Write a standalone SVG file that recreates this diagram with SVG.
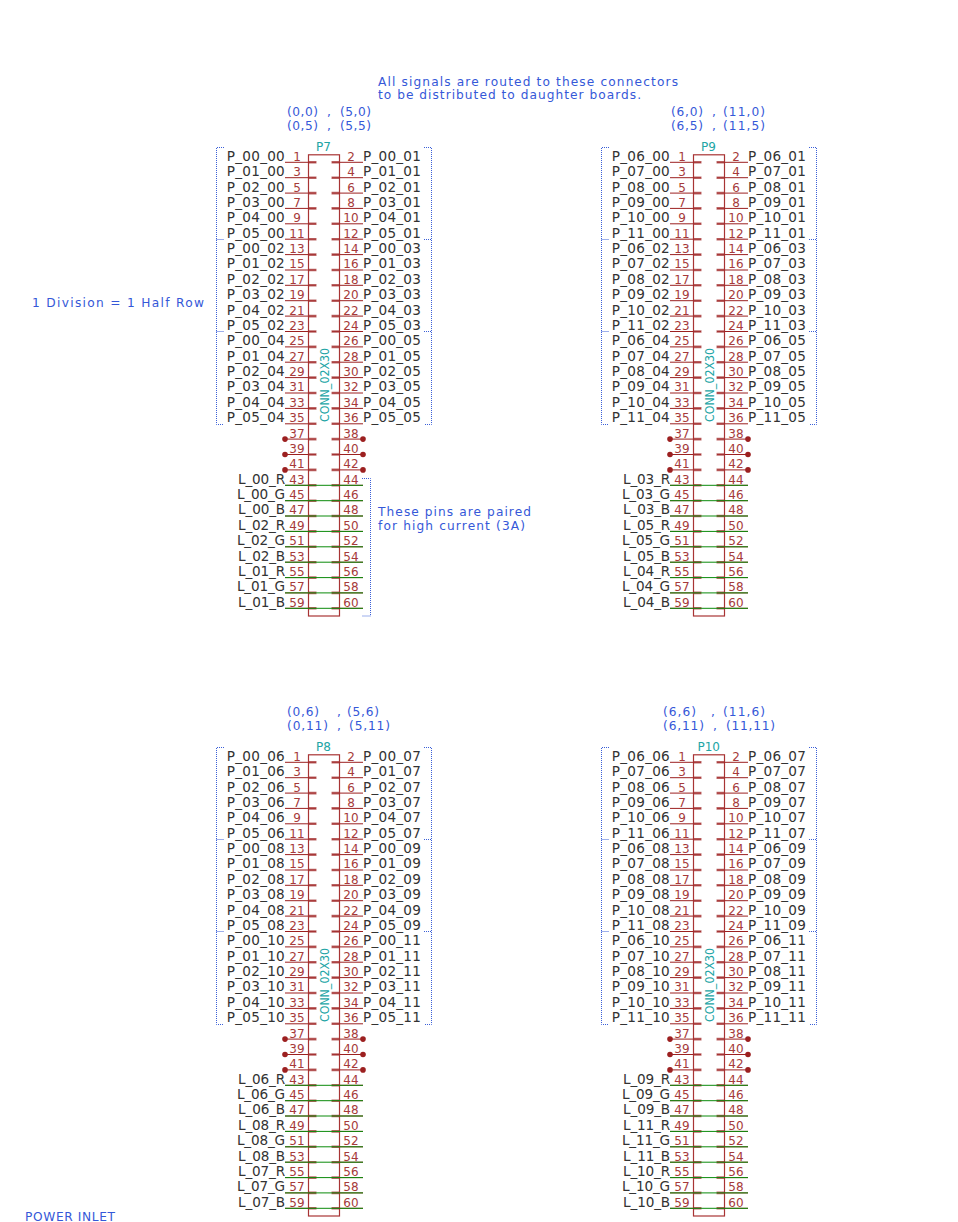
<svg xmlns="http://www.w3.org/2000/svg" xmlns:xlink="http://www.w3.org/1999/xlink" width="958" height="1222" viewBox="0 0 958 1222">
<style>
text{font-family:"DejaVu Sans","Liberation Sans",sans-serif}
.n{font-size:12px;fill:#a63a3a;text-anchor:middle}
.l{font-size:13.6px;fill:#333;text-anchor:end;letter-spacing:.25px}
.k{font-size:13.6px;fill:#333;text-anchor:end;letter-spacing:-.15px}
.r{font-size:13.6px;fill:#333;letter-spacing:.25px}
.v{font-size:12px;fill:#22a5a5}
.c{font-size:13px;fill:#22a5a5}
.b{font-size:12.2px;fill:#3558d8}
.box{fill:none;stroke:#a83434;stroke-width:1.2}
.pin{fill:none;stroke:#9c2020;stroke-width:1}
.stub{fill:none;stroke:#a83a3a;stroke-width:2.6;stroke-opacity:.75}
.wire{fill:none;stroke:#0a8a0a;stroke-width:1}
.dot{fill:#9c2020}
.br{fill:none;stroke:#3a5fd8;stroke-width:1;stroke-dasharray:1 1}
</style>
<defs>
<g id="body">
<rect class="box" x="308.5" y="154.8" width="31" height="461.2"/>
<path class="pin" d="M285 162.3H316M285 177.7H316M285 193.1H316M285 208.4H316M285 223.8H316M285 239.2H316M285 254.6H316M285 270H316M285 285.3H316M285 300.7H316M285 316.1H316M285 331.5H316M285 346.9H316M285 362.2H316M285 377.6H316M285 393H316M285 408.4H316M285 423.8H316M285 439.1H316M285 454.5H316M285 469.9H316M285 485.3H316M285 500.7H316M285 516H316M285 531.4H316M285 546.8H316M285 562.2H316M285 577.6H316M285 592.9H316M285 608.3H316M332 162.3H363M332 177.7H363M332 193.1H363M332 208.4H363M332 223.8H363M332 239.2H363M332 254.6H363M332 270H363M332 285.3H363M332 300.7H363M332 316.1H363M332 331.5H363M332 346.9H363M332 362.2H363M332 377.6H363M332 393H363M332 408.4H363M332 423.8H363M332 439.1H363M332 454.5H363M332 469.9H363M332 485.3H363M332 500.7H363M332 516H363M332 531.4H363M332 546.8H363M332 562.2H363M332 577.6H363M332 592.9H363M332 608.3H363"/>
<path class="stub" d="M308.5 162.3H316.5M308.5 177.7H316.5M308.5 193.1H316.5M308.5 208.4H316.5M308.5 223.8H316.5M308.5 239.2H316.5M308.5 254.6H316.5M308.5 270H316.5M308.5 285.3H316.5M308.5 300.7H316.5M308.5 316.1H316.5M308.5 331.5H316.5M308.5 346.9H316.5M308.5 362.2H316.5M308.5 377.6H316.5M308.5 393H316.5M308.5 408.4H316.5M308.5 423.8H316.5M308.5 439.1H316.5M308.5 454.5H316.5M308.5 469.9H316.5M308.5 485.3H316.5M308.5 500.7H316.5M308.5 516H316.5M308.5 531.4H316.5M308.5 546.8H316.5M308.5 562.2H316.5M308.5 577.6H316.5M308.5 592.9H316.5M308.5 608.3H316.5M331.5 162.3H339.5M331.5 177.7H339.5M331.5 193.1H339.5M331.5 208.4H339.5M331.5 223.8H339.5M331.5 239.2H339.5M331.5 254.6H339.5M331.5 270H339.5M331.5 285.3H339.5M331.5 300.7H339.5M331.5 316.1H339.5M331.5 331.5H339.5M331.5 346.9H339.5M331.5 362.2H339.5M331.5 377.6H339.5M331.5 393H339.5M331.5 408.4H339.5M331.5 423.8H339.5M331.5 439.1H339.5M331.5 454.5H339.5M331.5 469.9H339.5M331.5 485.3H339.5M331.5 500.7H339.5M331.5 516H339.5M331.5 531.4H339.5M331.5 546.8H339.5M331.5 562.2H339.5M331.5 577.6H339.5M331.5 592.9H339.5M331.5 608.3H339.5"/>
</g>
<g id="nums">
<text class="n" x="297" y="160.7">1</text><text class="n" x="351" y="160.7">2</text>
<text class="n" x="297" y="176.1">3</text><text class="n" x="351" y="176.1">4</text>
<text class="n" x="297" y="191.5">5</text><text class="n" x="351" y="191.5">6</text>
<text class="n" x="297" y="206.8">7</text><text class="n" x="351" y="206.8">8</text>
<text class="n" x="297" y="222.2">9</text><text class="n" x="351" y="222.2">10</text>
<text class="n" x="297" y="237.6">11</text><text class="n" x="351" y="237.6">12</text>
<text class="n" x="297" y="253">13</text><text class="n" x="351" y="253">14</text>
<text class="n" x="297" y="268.4">15</text><text class="n" x="351" y="268.4">16</text>
<text class="n" x="297" y="283.7">17</text><text class="n" x="351" y="283.7">18</text>
<text class="n" x="297" y="299.1">19</text><text class="n" x="351" y="299.1">20</text>
<text class="n" x="297" y="314.5">21</text><text class="n" x="351" y="314.5">22</text>
<text class="n" x="297" y="329.9">23</text><text class="n" x="351" y="329.9">24</text>
<text class="n" x="297" y="345.3">25</text><text class="n" x="351" y="345.3">26</text>
<text class="n" x="297" y="360.6">27</text><text class="n" x="351" y="360.6">28</text>
<text class="n" x="297" y="376">29</text><text class="n" x="351" y="376">30</text>
<text class="n" x="297" y="391.4">31</text><text class="n" x="351" y="391.4">32</text>
<text class="n" x="297" y="406.8">33</text><text class="n" x="351" y="406.8">34</text>
<text class="n" x="297" y="422.2">35</text><text class="n" x="351" y="422.2">36</text>
<text class="n" x="297" y="437.5">37</text><text class="n" x="351" y="437.5">38</text>
<text class="n" x="297" y="452.9">39</text><text class="n" x="351" y="452.9">40</text>
<text class="n" x="297" y="468.3">41</text><text class="n" x="351" y="468.3">42</text>
<text class="n" x="297" y="483.7">43</text><text class="n" x="351" y="483.7">44</text>
<text class="n" x="297" y="499.1">45</text><text class="n" x="351" y="499.1">46</text>
<text class="n" x="297" y="514.4">47</text><text class="n" x="351" y="514.4">48</text>
<text class="n" x="297" y="529.8">49</text><text class="n" x="351" y="529.8">50</text>
<text class="n" x="297" y="545.2">51</text><text class="n" x="351" y="545.2">52</text>
<text class="n" x="297" y="560.6">53</text><text class="n" x="351" y="560.6">54</text>
<text class="n" x="297" y="576">55</text><text class="n" x="351" y="576">56</text>
<text class="n" x="297" y="591.3">57</text><text class="n" x="351" y="591.3">58</text>
<text class="n" x="297" y="606.7">59</text><text class="n" x="351" y="606.7">60</text>
<text class="c" transform="translate(328.5 422) rotate(-90)" textLength="74" lengthAdjust="spacingAndGlyphs">CONN_02X30</text>
</g>
<path id="brk" class="br" d="M224 147.5H216.5V424.5H224M216.5 239.5H224M216.5 331.5H224M424 147.5H431.5V424.5H424M424 239.5H431.5M424 331.5H431.5"/>
<g id="net">
<path class="wire" d="M285 485.3H363M285 500.7H363M285 516H363M285 531.4H363M285 546.8H363M285 562.2H363M285 577.6H363M285 592.9H363M285 608.3H363"/>
<circle class="dot" cx="285" cy="439.1" r="2.8"/><circle class="dot" cx="363" cy="439.1" r="2.8"/>
<circle class="dot" cx="285" cy="454.5" r="2.8"/><circle class="dot" cx="363" cy="454.5" r="2.8"/>
<circle class="dot" cx="285" cy="469.9" r="2.8"/><circle class="dot" cx="363" cy="469.9" r="2.8"/>
</g>
</defs>

<g id="notes">
<text class="b" x="378" y="85.5" textLength="300">All signals are routed to these connectors</text>
<text class="b" x="378" y="99.3" textLength="263">to be distributed to daughter boards.</text>
<text class="b" x="287" y="115.8" textLength="31">(0,0)</text><text class="b" x="327" y="115.8">,</text><text class="b" x="340" y="115.8" textLength="31">(5,0)</text>
<text class="b" x="287" y="130" textLength="31">(0,5)</text><text class="b" x="327" y="130">,</text><text class="b" x="340" y="130" textLength="31">(5,5)</text>
<text class="b" x="671" y="115.8" textLength="32">(6,0)</text><text class="b" x="712" y="115.8">,</text><text class="b" x="723" y="115.8" textLength="42">(11,0)</text>
<text class="b" x="671" y="130" textLength="32">(6,5)</text><text class="b" x="712" y="130">,</text><text class="b" x="723" y="130" textLength="42">(11,5)</text>
<text class="b" x="287" y="716" textLength="32">(0,6)</text><text class="b" x="337" y="716">,</text><text class="b" x="347" y="716" textLength="32">(5,6)</text>
<text class="b" x="287" y="730.4" textLength="41">(0,11)</text><text class="b" x="337" y="730.4">,</text><text class="b" x="349" y="730.4" textLength="41">(5,11)</text>
<text class="b" x="663" y="716" textLength="33">(6,6)</text><text class="b" x="711" y="716">,</text><text class="b" x="723" y="716" textLength="42">(11,6)</text>
<text class="b" x="663" y="730.4" textLength="41">(6,11)</text><text class="b" x="713" y="730.4">,</text><text class="b" x="726" y="730.4" textLength="49">(11,11)</text>
<text class="b" x="32" y="307" textLength="172">1 Division = 1 Half Row</text>
<text class="b" x="378" y="516" textLength="153">These pins are paired</text>
<text class="b" x="378" y="530" textLength="147">for high current (3A)</text>
<text class="b" x="25" y="1221" textLength="90">POWER INLET</text>
<use href="#brk"/>
<use href="#brk" transform="translate(385 0)"/>
<use href="#brk" transform="translate(0 600)"/>
<use href="#brk" transform="translate(385 600)"/>
<path class="br" d="M362 478.5H370.5V616H362"/>
</g>

<g id="P7">
<use href="#body"/><use href="#nums"/>
<text class="v" x="316" y="150.7">P7</text>
<text class="l" x="285" y="160.7">P_00_00</text><text class="r" x="363" y="160.7">P_00_01</text>
<text class="l" x="285" y="176.1">P_01_00</text><text class="r" x="363" y="176.1">P_01_01</text>
<text class="l" x="285" y="191.5">P_02_00</text><text class="r" x="363" y="191.5">P_02_01</text>
<text class="l" x="285" y="206.8">P_03_00</text><text class="r" x="363" y="206.8">P_03_01</text>
<text class="l" x="285" y="222.2">P_04_00</text><text class="r" x="363" y="222.2">P_04_01</text>
<text class="l" x="285" y="237.6">P_05_00</text><text class="r" x="363" y="237.6">P_05_01</text>
<text class="l" x="285" y="253">P_00_02</text><text class="r" x="363" y="253">P_00_03</text>
<text class="l" x="285" y="268.4">P_01_02</text><text class="r" x="363" y="268.4">P_01_03</text>
<text class="l" x="285" y="283.7">P_02_02</text><text class="r" x="363" y="283.7">P_02_03</text>
<text class="l" x="285" y="299.1">P_03_02</text><text class="r" x="363" y="299.1">P_03_03</text>
<text class="l" x="285" y="314.5">P_04_02</text><text class="r" x="363" y="314.5">P_04_03</text>
<text class="l" x="285" y="329.9">P_05_02</text><text class="r" x="363" y="329.9">P_05_03</text>
<text class="l" x="285" y="345.3">P_00_04</text><text class="r" x="363" y="345.3">P_00_05</text>
<text class="l" x="285" y="360.6">P_01_04</text><text class="r" x="363" y="360.6">P_01_05</text>
<text class="l" x="285" y="376">P_02_04</text><text class="r" x="363" y="376">P_02_05</text>
<text class="l" x="285" y="391.4">P_03_04</text><text class="r" x="363" y="391.4">P_03_05</text>
<text class="l" x="285" y="406.8">P_04_04</text><text class="r" x="363" y="406.8">P_04_05</text>
<text class="l" x="285" y="422.2">P_05_04</text><text class="r" x="363" y="422.2">P_05_05</text>
<text class="k" x="285" y="483.7">L_00_R</text>
<text class="k" x="285" y="499.1">L_00_G</text>
<text class="k" x="285" y="514.4">L_00_B</text>
<text class="k" x="285" y="529.8">L_02_R</text>
<text class="k" x="285" y="545.2">L_02_G</text>
<text class="k" x="285" y="560.6">L_02_B</text>
<text class="k" x="285" y="576">L_01_R</text>
<text class="k" x="285" y="591.3">L_01_G</text>
<text class="k" x="285" y="606.7">L_01_B</text>
</g>

<g id="P9" transform="translate(385 0)">
<use href="#body"/><use href="#nums"/>
<text class="v" x="316" y="150.7">P9</text>
<text class="l" x="285" y="160.7">P_06_00</text><text class="r" x="363" y="160.7">P_06_01</text>
<text class="l" x="285" y="176.1">P_07_00</text><text class="r" x="363" y="176.1">P_07_01</text>
<text class="l" x="285" y="191.5">P_08_00</text><text class="r" x="363" y="191.5">P_08_01</text>
<text class="l" x="285" y="206.8">P_09_00</text><text class="r" x="363" y="206.8">P_09_01</text>
<text class="l" x="285" y="222.2">P_10_00</text><text class="r" x="363" y="222.2">P_10_01</text>
<text class="l" x="285" y="237.6">P_11_00</text><text class="r" x="363" y="237.6">P_11_01</text>
<text class="l" x="285" y="253">P_06_02</text><text class="r" x="363" y="253">P_06_03</text>
<text class="l" x="285" y="268.4">P_07_02</text><text class="r" x="363" y="268.4">P_07_03</text>
<text class="l" x="285" y="283.7">P_08_02</text><text class="r" x="363" y="283.7">P_08_03</text>
<text class="l" x="285" y="299.1">P_09_02</text><text class="r" x="363" y="299.1">P_09_03</text>
<text class="l" x="285" y="314.5">P_10_02</text><text class="r" x="363" y="314.5">P_10_03</text>
<text class="l" x="285" y="329.9">P_11_02</text><text class="r" x="363" y="329.9">P_11_03</text>
<text class="l" x="285" y="345.3">P_06_04</text><text class="r" x="363" y="345.3">P_06_05</text>
<text class="l" x="285" y="360.6">P_07_04</text><text class="r" x="363" y="360.6">P_07_05</text>
<text class="l" x="285" y="376">P_08_04</text><text class="r" x="363" y="376">P_08_05</text>
<text class="l" x="285" y="391.4">P_09_04</text><text class="r" x="363" y="391.4">P_09_05</text>
<text class="l" x="285" y="406.8">P_10_04</text><text class="r" x="363" y="406.8">P_10_05</text>
<text class="l" x="285" y="422.2">P_11_04</text><text class="r" x="363" y="422.2">P_11_05</text>
<text class="k" x="285" y="483.7">L_03_R</text>
<text class="k" x="285" y="499.1">L_03_G</text>
<text class="k" x="285" y="514.4">L_03_B</text>
<text class="k" x="285" y="529.8">L_05_R</text>
<text class="k" x="285" y="545.2">L_05_G</text>
<text class="k" x="285" y="560.6">L_05_B</text>
<text class="k" x="285" y="576">L_04_R</text>
<text class="k" x="285" y="591.3">L_04_G</text>
<text class="k" x="285" y="606.7">L_04_B</text>
</g>

<g id="P8" transform="translate(0 600)">
<use href="#body"/><use href="#nums"/>
<text class="v" x="316" y="150.7">P8</text>
<text class="l" x="285" y="160.7">P_00_06</text><text class="r" x="363" y="160.7">P_00_07</text>
<text class="l" x="285" y="176.1">P_01_06</text><text class="r" x="363" y="176.1">P_01_07</text>
<text class="l" x="285" y="191.5">P_02_06</text><text class="r" x="363" y="191.5">P_02_07</text>
<text class="l" x="285" y="206.8">P_03_06</text><text class="r" x="363" y="206.8">P_03_07</text>
<text class="l" x="285" y="222.2">P_04_06</text><text class="r" x="363" y="222.2">P_04_07</text>
<text class="l" x="285" y="237.6">P_05_06</text><text class="r" x="363" y="237.6">P_05_07</text>
<text class="l" x="285" y="253">P_00_08</text><text class="r" x="363" y="253">P_00_09</text>
<text class="l" x="285" y="268.4">P_01_08</text><text class="r" x="363" y="268.4">P_01_09</text>
<text class="l" x="285" y="283.7">P_02_08</text><text class="r" x="363" y="283.7">P_02_09</text>
<text class="l" x="285" y="299.1">P_03_08</text><text class="r" x="363" y="299.1">P_03_09</text>
<text class="l" x="285" y="314.5">P_04_08</text><text class="r" x="363" y="314.5">P_04_09</text>
<text class="l" x="285" y="329.9">P_05_08</text><text class="r" x="363" y="329.9">P_05_09</text>
<text class="l" x="285" y="345.3">P_00_10</text><text class="r" x="363" y="345.3">P_00_11</text>
<text class="l" x="285" y="360.6">P_01_10</text><text class="r" x="363" y="360.6">P_01_11</text>
<text class="l" x="285" y="376">P_02_10</text><text class="r" x="363" y="376">P_02_11</text>
<text class="l" x="285" y="391.4">P_03_10</text><text class="r" x="363" y="391.4">P_03_11</text>
<text class="l" x="285" y="406.8">P_04_10</text><text class="r" x="363" y="406.8">P_04_11</text>
<text class="l" x="285" y="422.2">P_05_10</text><text class="r" x="363" y="422.2">P_05_11</text>
<text class="k" x="285" y="483.7">L_06_R</text>
<text class="k" x="285" y="499.1">L_06_G</text>
<text class="k" x="285" y="514.4">L_06_B</text>
<text class="k" x="285" y="529.8">L_08_R</text>
<text class="k" x="285" y="545.2">L_08_G</text>
<text class="k" x="285" y="560.6">L_08_B</text>
<text class="k" x="285" y="576">L_07_R</text>
<text class="k" x="285" y="591.3">L_07_G</text>
<text class="k" x="285" y="606.7">L_07_B</text>
</g>

<g id="P10" transform="translate(385 600)">
<use href="#body"/><use href="#nums"/>
<text class="v" x="312.5" y="150.7">P10</text>
<text class="l" x="285" y="160.7">P_06_06</text><text class="r" x="363" y="160.7">P_06_07</text>
<text class="l" x="285" y="176.1">P_07_06</text><text class="r" x="363" y="176.1">P_07_07</text>
<text class="l" x="285" y="191.5">P_08_06</text><text class="r" x="363" y="191.5">P_08_07</text>
<text class="l" x="285" y="206.8">P_09_06</text><text class="r" x="363" y="206.8">P_09_07</text>
<text class="l" x="285" y="222.2">P_10_06</text><text class="r" x="363" y="222.2">P_10_07</text>
<text class="l" x="285" y="237.6">P_11_06</text><text class="r" x="363" y="237.6">P_11_07</text>
<text class="l" x="285" y="253">P_06_08</text><text class="r" x="363" y="253">P_06_09</text>
<text class="l" x="285" y="268.4">P_07_08</text><text class="r" x="363" y="268.4">P_07_09</text>
<text class="l" x="285" y="283.7">P_08_08</text><text class="r" x="363" y="283.7">P_08_09</text>
<text class="l" x="285" y="299.1">P_09_08</text><text class="r" x="363" y="299.1">P_09_09</text>
<text class="l" x="285" y="314.5">P_10_08</text><text class="r" x="363" y="314.5">P_10_09</text>
<text class="l" x="285" y="329.9">P_11_08</text><text class="r" x="363" y="329.9">P_11_09</text>
<text class="l" x="285" y="345.3">P_06_10</text><text class="r" x="363" y="345.3">P_06_11</text>
<text class="l" x="285" y="360.6">P_07_10</text><text class="r" x="363" y="360.6">P_07_11</text>
<text class="l" x="285" y="376">P_08_10</text><text class="r" x="363" y="376">P_08_11</text>
<text class="l" x="285" y="391.4">P_09_10</text><text class="r" x="363" y="391.4">P_09_11</text>
<text class="l" x="285" y="406.8">P_10_10</text><text class="r" x="363" y="406.8">P_10_11</text>
<text class="l" x="285" y="422.2">P_11_10</text><text class="r" x="363" y="422.2">P_11_11</text>
<text class="k" x="285" y="483.7">L_09_R</text>
<text class="k" x="285" y="499.1">L_09_G</text>
<text class="k" x="285" y="514.4">L_09_B</text>
<text class="k" x="285" y="529.8">L_11_R</text>
<text class="k" x="285" y="545.2">L_11_G</text>
<text class="k" x="285" y="560.6">L_11_B</text>
<text class="k" x="285" y="576">L_10_R</text>
<text class="k" x="285" y="591.3">L_10_G</text>
<text class="k" x="285" y="606.7">L_10_B</text>
</g>

<g id="connectors">
<use href="#net"/>
<use href="#net" transform="translate(385 0)"/>
<use href="#net" transform="translate(0 600)"/>
<use href="#net" transform="translate(385 600)"/>
</g>
</svg>
